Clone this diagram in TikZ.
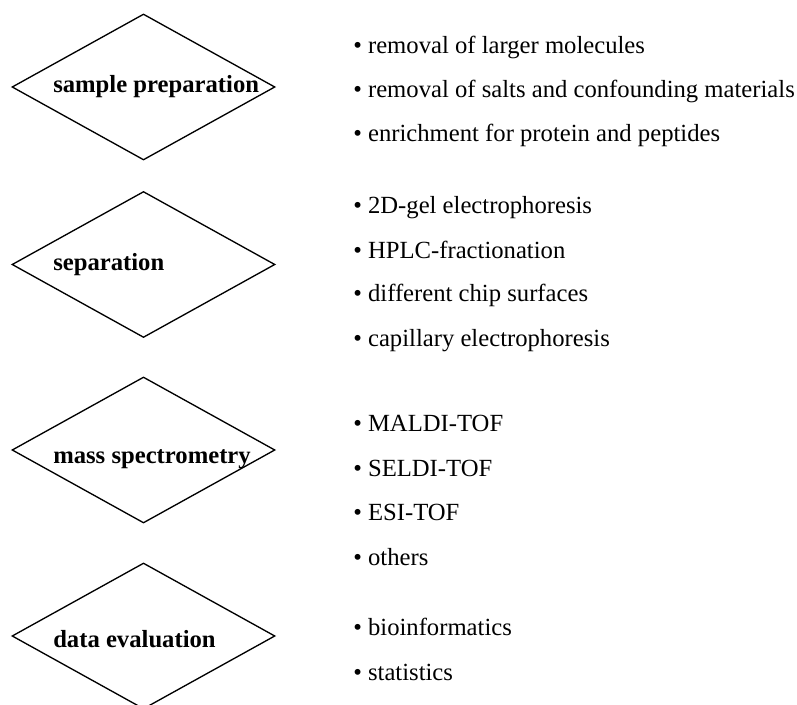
\documentclass[tikz,border=0pt]{standalone}
\usepackage{fontspec}
\setmainfont{Liberation Serif}
\usetikzlibrary{shapes.geometric}

\begin{document}
\begin{tikzpicture}[x=0.75pt,y=-0.75pt]
\tikzset{stage/.style={ %
		draw,
		line width=1pt,
		diamond,
		inner sep=0pt,
		minimum width=197.25pt,
		minimum height=109.5pt
	},
	stage label/.style={ %
		anchor=base west,
		inner sep=0pt,
		font=\fontsize{18.5}{22}\selectfont\bfseries
	},
	item/.style={ %
		anchor=base west,
		inner sep=0pt,
		font=\fontsize{18.5}{22}\selectfont
	}
}
\useasboundingbox (0,0) rectangle (797,705);
\clip (0,0) rectangle (797,705);

\node[stage] (prep) at (143.5,87) {};
\node[stage] (sep) at (143.5,264.5) {};
\node[stage] (ms) at (143.5,450) {};
\node[stage] (eval) at (143.5,636) {};

\node[stage label] (prep text) at (53,93) {sample preparation};
\node[stage label] (sep text) at (53,271) {separation};
\node[stage label] (ms text) at (53,464) {mass spectrometry};
\node[stage label] (eval text) at (53,648) {data evaluation};

% sample preparation
\node[item] (prep1) at (353,54) {• removal of larger molecules};
\node[item] (prep2) at (353,98) {• removal of salts and confounding materials};
\node[item] (prep3) at (353,142) {• enrichment for protein and peptides};

% separation
\node[item] (sep1) at (353,214) {• 2D-gel electrophoresis};
\node[item] (sep2) at (353,259) {• HPLC-fractionation};
\node[item] (sep3) at (353,302) {• different chip surfaces};
\node[item] (sep4) at (353,347) {• capillary electrophoresis};

% mass spectrometry
\node[item] (ms1) at (353,432) {• MALDI-TOF};
\node[item] (ms2) at (353,477) {• SELDI-TOF};
\node[item] (ms3) at (353,521) {• ESI-TOF};
\node[item] (ms4) at (353,566) {• others};

% data evaluation
\node[item] (eval1) at (353,636) {• bioinformatics};
\node[item] (eval2) at (353,681) {• statistics};

\end{tikzpicture}
\end{document}
